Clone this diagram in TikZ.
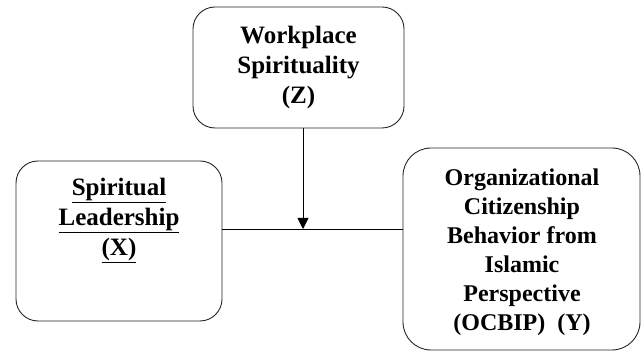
\documentclass[tikz,border=0pt]{standalone}
\usepackage{fontspec}
\setmainfont{Liberation Serif}
\usetikzlibrary{arrows.meta}
\begin{document}
\begin{tikzpicture}[x=1pt,y=-1pt,
  box/.style={draw=black!85,line width=0.9pt,rounded corners=22pt,inner sep=0pt},
  lbl/.style={align=center,inner sep=0pt,anchor=north,font=\bfseries\fontsize{25}{30}\selectfont},
  lbly/.style={align=center,inner sep=0pt,anchor=north,font=\bfseries\fontsize{24}{29}\selectfont},
  conn/.style={line width=0.9pt,draw=black}]
\useasboundingbox (0,0) rectangle (642,352);
\fill[white] (0,0) rectangle (642,352);
% boxes
\draw[box] (193,7) rectangle (404,128);
\draw[box] (16,161) rectangle (222,321);
\draw[box,rounded corners=28pt] (403,148) rectangle (640,350);
\coordinate (zs) at (303,128);
\coordinate (xe) at (222,229);
\coordinate (yw) at (403,229);
\coordinate (m) at (303,229);
% texts
\node[lbl] (zt) at (298.5,26) {Workplace\\Spirituality\\(Z)};
\node[lbl] (xt) at (119,178) {\underline{Spiritual}\\\underline{Leadership}\\\underline{(X)}};
\node[lbly] (yt) at (522,169) {Organizational\\Citizenship\\Behavior from\\Islamic\\Perspective\\(OCBIP)\ \ (Y)};
% connectors
\draw[conn] (xe) -- (yw);
\draw[conn,-{Triangle[width=11pt,length=11pt]}] (zs) -- (m);
\end{tikzpicture}
\end{document}
